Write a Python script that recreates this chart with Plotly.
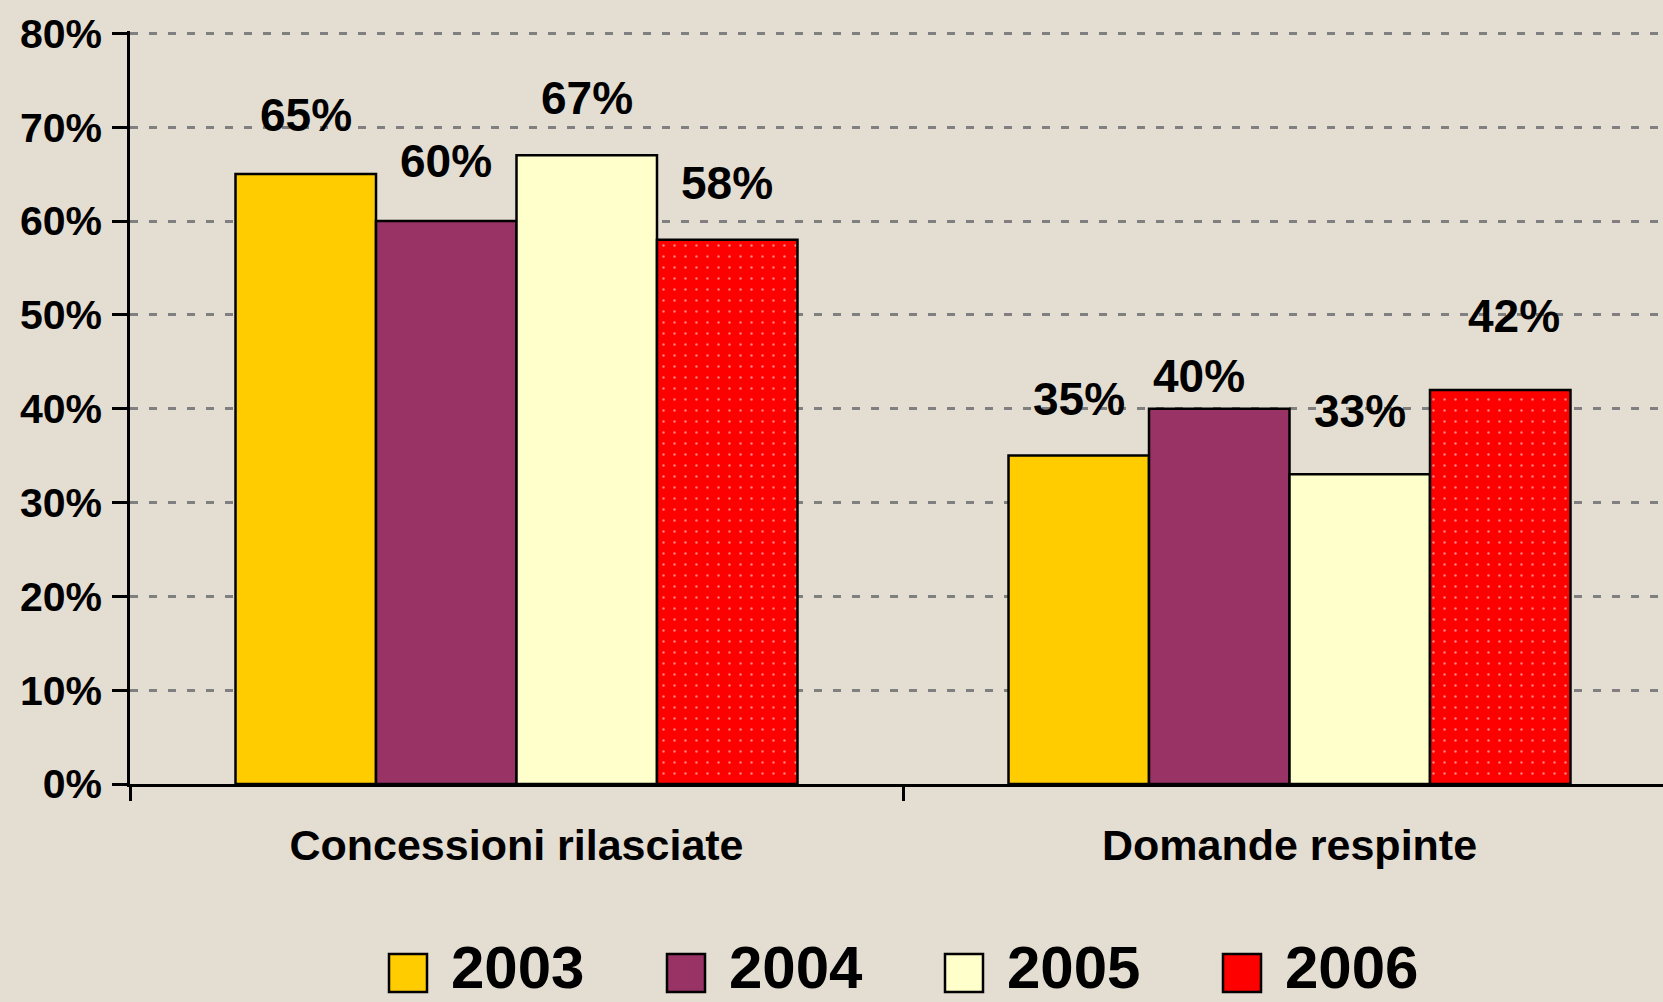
import plotly.graph_objects as go

# ---- data ----
categories = ["Concessioni rilasciate", "Domande respinte"]
years = ["2003", "2004", "2005", "2006"]
values_2003 = [65, 35]
values_2004 = [60, 40]
values_2005 = [67, 33]
values_2006 = [58, 42]
series_values = [values_2003, values_2004, values_2005, values_2006]
y_tick_values = [0, 10, 20, 30, 40, 50, 60, 70, 80]
y_tick_labels = ["0%", "10%", "20%", "30%", "40%", "50%", "60%", "70%", "80%"]

# ---- styles ----
colors = ["#FFCC00", "#993366", "#FFFFCC", "#FF0000"]
label_yshift = [[59, 57], [60, 33], [57, 63], [57, 74]]
label_xshift = [[0, 0], [0, -20], [0, 0], [0, 14]]
bg = "#E4DDD1"
BOLD = "Liberation Sans"
bargap = 0.273

W, H = 1663, 1002
L, T, B = 130, 31, 784

fig = go.Figure()
for i, (name, vals) in enumerate(zip(years, series_values)):
    marker = dict(color=colors[i], line=dict(color="black", width=2.5))
    if i == 3:
        marker["pattern"] = dict(shape=".", fgcolor="white", bgcolor=colors[i],
                                 size=11, solidity=0.04, fillmode="overlay")
    fig.add_trace(go.Bar(x=categories, y=vals, name=name, marker=marker,
                         showlegend=False, hoverinfo="skip"))

# data labels
n = len(years)
bw = (1 - bargap) / n
for i, vals in enumerate(series_values):
    for j, v in enumerate(vals):
        xpos = j - (1 - bargap) / 2 + (i + 0.5) * bw
        fig.add_annotation(x=xpos, y=v, xref="x", yref="y", text=f"{v}%",
                           showarrow=False, yanchor="middle", xanchor="center",
                           yshift=label_yshift[i][j], xshift=label_xshift[i][j],
                           font=dict(family=BOLD, size=46, color="black", weight="bold"))

# custom legend
leg_x0 = 389
leg_step = 278
sw = 38
leg_cy = 967
pw, ph = W - L, B - T
for i, name in enumerate(years):
    x0 = leg_x0 + i * leg_step
    fig.add_shape(type="rect", xref="paper", yref="paper",
                  x0=(x0 - L) / pw, x1=(x0 + sw - L) / pw,
                  y0=-(leg_cy + 6 + sw / 2 - B) / ph, y1=-(leg_cy + 6 - sw / 2 - B) / ph,
                  fillcolor=colors[i], line=dict(color="black", width=2.5))
    fig.add_annotation(xref="paper", yref="paper",
                       x=(x0 + sw + 22 - L) / pw, y=-(leg_cy - B) / ph,
                       xanchor="left", yanchor="middle", showarrow=False, text=name,
                       font=dict(family=BOLD, size=60, color="black", weight="bold"))

fig.update_layout(
    width=W, height=H,
    margin=dict(l=L, r=0, t=T, b=H - B, pad=0, autoexpand=False),
    paper_bgcolor=bg, plot_bgcolor=bg,
    barmode="group", bargap=bargap, bargroupgap=0,
    showlegend=False,
)
fig.update_xaxes(type="category", range=[-0.5, -0.5 + (W - L) / 773],
                 showline=True, linecolor="black", linewidth=2.5,
                 ticks="outside", tickson="boundaries", ticklen=14, tickwidth=2.5, tickcolor="black",
                 showgrid=False, zeroline=False, automargin=False, ticklabelstandoff=22,
                 tickfont=dict(family=BOLD, size=43, color="black", weight="bold"))
fig.update_yaxes(range=[0, 80.25], tickvals=y_tick_values, ticktext=y_tick_labels,
                 showline=True, linecolor="black", linewidth=2.5,
                 ticks="outside", ticklen=15, tickwidth=2.5, tickcolor="black",
                 showgrid=True, gridcolor="#808080", gridwidth=3, griddash="8px,11px",
                 zeroline=False, automargin=False, ticklabelstandoff=2,
                 tickfont=dict(family=BOLD, size=41, color="black", weight="bold"))

fig.write_html("out.html", config={"displayModeBar": False},
               post_script="document.body.style.margin='0';")
